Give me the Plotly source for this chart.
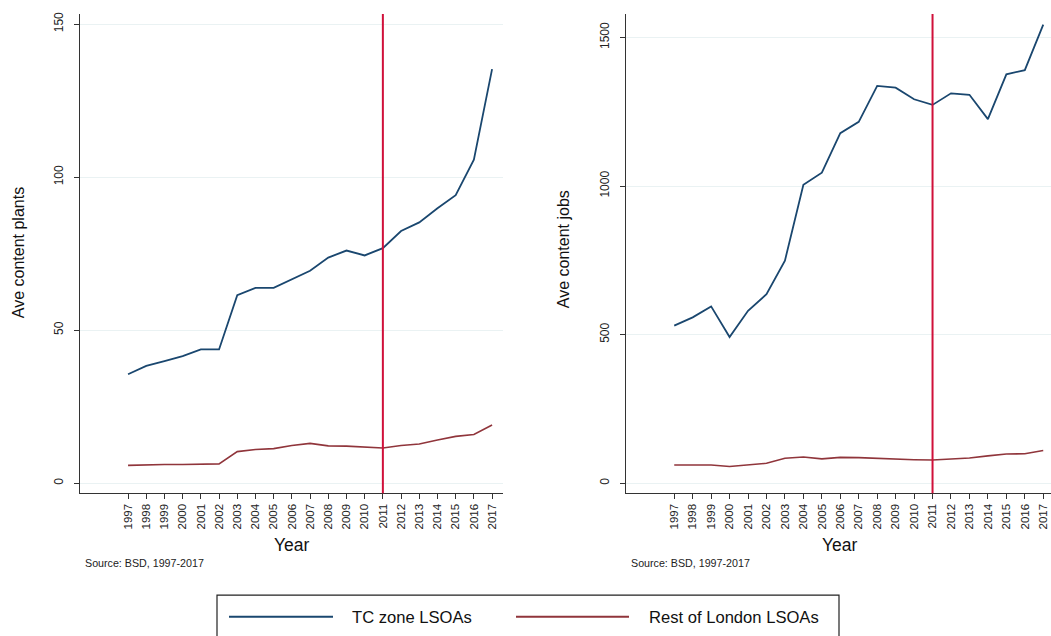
import plotly.graph_objects as go

years = list(range(1997, 2018))
year_labels = [str(y) for y in years]

tc_plants = [35.6, 38.3, 39.9, 41.5, 43.7, 43.7, 61.4, 63.8, 63.8, 66.7, 69.4,
             73.7, 76.0, 74.4, 76.8, 82.4, 85.2, 89.8, 94.1, 105.7, 135.3]
rest_plants = [5.8, 6.0, 6.1, 6.1, 6.3, 6.3, 10.3, 11.0, 11.3, 12.3, 13.0,
               12.2, 12.1, 11.7, 11.5, 12.3, 12.8, 14.1, 15.3, 15.9, 19.0]

tc_jobs = [530, 558, 595, 492, 580, 636, 749, 1004, 1045, 1178, 1216,
           1337, 1331, 1292, 1273, 1312, 1307, 1225, 1376, 1390, 1543]
rest_jobs = [61, 61, 61, 56, 61, 67, 84, 88, 82, 87, 86,
             83, 82, 79, 78, 82, 85, 92, 98, 99, 110]

plants_ticks = [0, 50, 100, 150]
jobs_ticks = [0, 500, 1000, 1500]
policy_year = 2011

series_names = ["TC zone LSOAs", "Rest of London LSOAs"]
NAVY = "#1a476f"
MAROON = "#90353b"
RED = "#d0103a"
GRID = "#eaf2f3"
AXIS = "#333333"
FONT = "Liberation Sans, Arial, sans-serif"

W, H = 1051, 636
def px(x): return x / W
def py(y): return 1 - y / H

fig = go.Figure()
fig.add_trace(go.Scatter(x=years, y=tc_plants, mode="lines", line=dict(color=NAVY, width=1.8),
                         name=series_names[0], xaxis="x", yaxis="y", showlegend=False))
fig.add_trace(go.Scatter(x=years, y=rest_plants, mode="lines", line=dict(color=MAROON, width=1.6),
                         name=series_names[1], xaxis="x", yaxis="y", showlegend=False))
fig.add_trace(go.Scatter(x=years, y=tc_jobs, mode="lines", line=dict(color=NAVY, width=1.8),
                         name=series_names[0], xaxis="x2", yaxis="y2", showlegend=False))
fig.add_trace(go.Scatter(x=years, y=rest_jobs, mode="lines", line=dict(color=MAROON, width=1.6),
                         name=series_names[1], xaxis="x2", yaxis="y2", showlegend=False))

xcommon = dict(tickmode="array", tickvals=years, ticktext=year_labels, tickangle=-90,
               ticks="outside", ticklen=5, tickcolor=AXIS, showline=True, linecolor=AXIS,
               linewidth=1.2, showgrid=False, zeroline=False,
               tickfont=dict(family=FONT, size=11.5, color="#222222"))
ycommon = dict(tickmode="array", tickangle=-90, ticks="outside", ticklen=5, tickcolor=AXIS,
               showline=True, linecolor=AXIS, linewidth=1.2, showgrid=True, gridcolor=GRID,
               gridwidth=1.2, zeroline=False, ticklabelstandoff=6,
               tickfont=dict(family=FONT, size=12, color="#222222"))

ybot, ytop = py(492.7), py(12)
fig.update_layout(
    width=W, height=H,
    margin=dict(l=0, r=0, t=0, b=0),
    paper_bgcolor="white", plot_bgcolor="white",
    font=dict(family=FONT, color="#111111"),
    xaxis=dict(domain=[px(80), px(503)], range=[1994.36, 2017.6], **xcommon),
    yaxis=dict(domain=[ybot, ytop], range=[-3.26, 153.3], tickvals=plants_ticks, **ycommon),
    xaxis2=dict(domain=[px(625.7), 1.0], range=[1994.37, 2017.42], anchor="y2", **xcommon),
    yaxis2=dict(domain=[ybot, ytop], range=[-33.5, 1579], tickvals=jobs_ticks, anchor="x2", **ycommon),
    showlegend=False,
)

# policy line
for xr, yr in (("x", "y"), ("x2", "y2")):
    fig.add_shape(type="line", xref=xr, yref=yr + " domain", x0=policy_year, x1=policy_year,
                  y0=0, y1=1, line=dict(color=RED, width=2))

annotations = [
    dict(text="Ave content plants", x=px(18), y=py(252), textangle=-90, size=16),
    dict(text="Ave content jobs", x=px(563), y=py(248), textangle=-90, size=16),
    dict(text="Year", x=px(292), y=py(545), textangle=0, size=17.5),
    dict(text="Year", x=px(840), y=py(545), textangle=0, size=17.5),
]
for a in annotations:
    fig.add_annotation(xref="paper", yref="paper", showarrow=False, xanchor="center", yanchor="middle",
                       text=a["text"], x=a["x"], y=a["y"], textangle=a["textangle"],
                       font=dict(family=FONT, size=a["size"], color="#111111"))

for xs in (83, 629):
    fig.add_annotation(xref="paper", yref="paper", showarrow=False, text="Source: BSD, 1997-2017",
                       x=px(xs), y=py(563), xanchor="left", yanchor="middle",
                       font=dict(family=FONT, size=10.7, color="#222222"))

# legend box
fig.add_shape(type="rect", xref="paper", yref="paper", x0=px(217), x1=px(839), y0=py(660), y1=py(595),
              line=dict(color="#222222", width=1.2), fillcolor="white")
legend_items = [(229, 333, 350, NAVY, series_names[0]), (516, 629, 647, MAROON, series_names[1])]
for lx0, lx1, tx, col, name in legend_items:
    fig.add_shape(type="line", xref="paper", yref="paper", x0=px(lx0), x1=px(lx1),
                  y0=py(616.7), y1=py(616.7), line=dict(color=col, width=2))
    fig.add_annotation(xref="paper", yref="paper", showarrow=False, text=name, x=px(tx), y=py(617),
                       xanchor="left", yanchor="middle",
                       font=dict(family=FONT, size=16.6, color="#111111"))

fig.write_html("out.html", config={"displayModeBar": False},
               post_script="document.body.style.margin='0px';document.body.style.overflow='hidden';")
